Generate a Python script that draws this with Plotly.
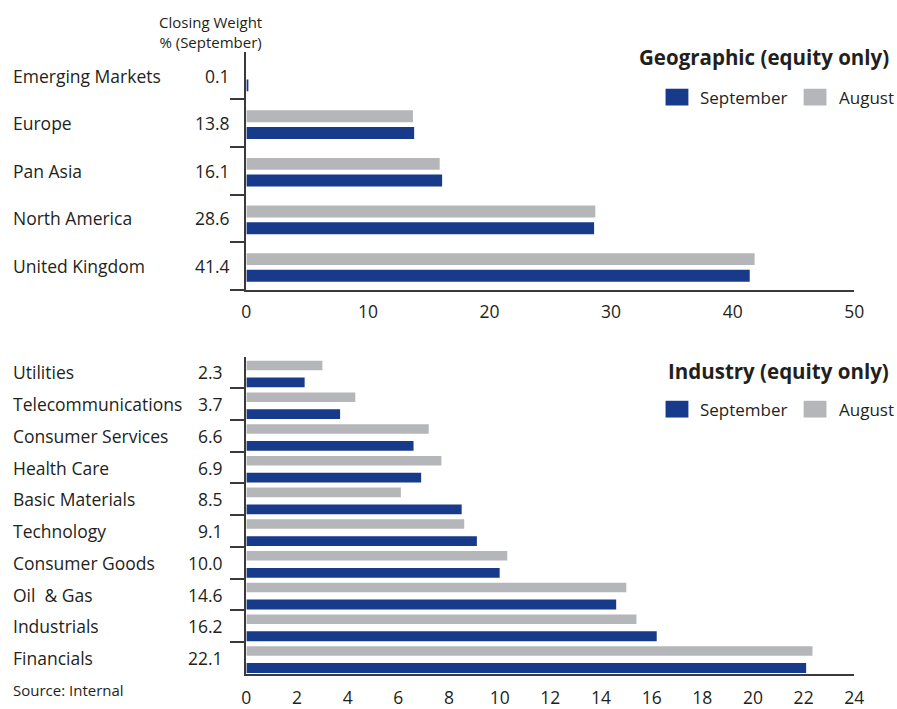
import plotly.graph_objects as go

# ---------------- data ----------------
geo_categories = ["Emerging Markets", "Europe", "Pan Asia", "North America", "United Kingdom"]
geo_september = [0.1, 13.8, 16.1, 28.6, 41.4]
geo_august = [0.0, 13.7, 15.9, 28.7, 41.8]
geo_ticks = [0, 10, 20, 30, 40, 50]

ind_categories = ["Utilities", "Telecommunications", "Consumer Services", "Health Care",
                  "Basic Materials", "Technology", "Consumer Goods", "Oil\u00a0 & Gas",
                  "Industrials", "Financials"]
ind_september = [2.3, 3.7, 6.6, 6.9, 8.5, 9.1, 10.0, 14.6, 16.2, 22.1]
ind_august = [3.0, 4.3, 7.2, 7.7, 6.1, 8.6, 10.3, 15.0, 15.4, 22.35]
ind_ticks = [0, 2, 4, 6, 8, 10, 12, 14, 16, 18, 20, 22, 24]

series_names = ["September", "August"]
geo_title = "Geographic (equity only)"
ind_title = "Industry (equity only)"
value_header = "Closing Weight<br>% (September)"
source_text = "Source: Internal"

# ---------------- style ----------------
W, H = 906, 709          # rendered figure; screenshot maps it onto 897 px
SW = 897                 # target screenshot width
BLUE = "#173a8a"
GRAY = "#b5b6b9"
TXT = "#231f20"
AXC = "#3a3a3a"
FONT = "Open Sans, Noto Sans, sans-serif"
FS = 17.5


def px(x):
    return x / SW


def py(y):
    return 1 - y / H


fig = go.Figure()

# top chart bars
fig.add_trace(go.Bar(orientation="h", x=geo_august, y=geo_categories, name=series_names[1],
                     marker=dict(color=GRAY, line=dict(width=0)), width=0.25, offset=0.02,
                     xaxis="x", yaxis="y", showlegend=False))
fig.add_trace(go.Bar(orientation="h", x=geo_september, y=geo_categories, name=series_names[0],
                     marker=dict(color=BLUE, line=dict(width=0)), width=0.25, offset=-0.33,
                     xaxis="x", yaxis="y", showlegend=False))
# bottom chart bars
fig.add_trace(go.Bar(orientation="h", x=ind_august, y=ind_categories, name=series_names[1],
                     marker=dict(color=GRAY, line=dict(width=0)), width=0.30, offset=0.07,
                     xaxis="x2", yaxis="y2", showlegend=False))
fig.add_trace(go.Bar(orientation="h", x=ind_september, y=ind_categories, name=series_names[0],
                     marker=dict(color=BLUE, line=dict(width=0)), width=0.31, offset=-0.47,
                     xaxis="x2", yaxis="y2", showlegend=False))

xcommon = dict(showline=True, linecolor=AXC, linewidth=1.5, ticks="", showgrid=False,
               zeroline=False, tickfont=dict(family=FONT, size=FS, color=TXT))
ycommon = dict(type="category", showticklabels=False, ticks="outside", tickson="boundaries",
               ticklen=15, tickwidth=1.5, tickcolor=AXC, showline=True, linecolor=AXC,
               linewidth=1.5, showgrid=False, zeroline=False, categoryorder="array")

fig.update_layout(
    width=W, height=H, autosize=False, margin=dict(l=0, r=0, t=0, b=0, pad=0),
    paper_bgcolor="white", plot_bgcolor="white", barmode="overlay",
    font=dict(family=FONT, size=FS, color=TXT),
    xaxis=dict(domain=[px(243), px(855)], range=[0, 50], tickvals=geo_ticks, anchor="y",
               ticklabelstandoff=5, **xcommon),
    yaxis=dict(domain=[py(294), py(53)], range=[-0.5, len(geo_categories) - 0.51],
               categoryarray=list(reversed(geo_categories)), anchor="x", **ycommon),
    xaxis2=dict(domain=[px(243), px(855)], range=[0, 24], tickvals=ind_ticks, anchor="y2",
                ticklabelstandoff=7, **xcommon),
    yaxis2=dict(domain=[py(683.5), py(362)], range=[-0.5, len(ind_categories) - 0.51],
                categoryarray=list(reversed(ind_categories)), anchor="x2", **ycommon),
)

ann = []
# category labels and values
for cat, v in zip(geo_categories, geo_september):
    ann.append(dict(x=px(6), xref="paper", y=cat, yref="y", text=cat, showarrow=False,
                    xanchor="left", yanchor="middle", font=dict(size=FS)))
    ann.append(dict(x=px(229), xref="paper", y=cat, yref="y", text=f"{v:.1f}", showarrow=False,
                    xanchor="right", yanchor="middle", font=dict(size=FS)))
for cat, v in zip(ind_categories, ind_september):
    ann.append(dict(x=px(6), xref="paper", y=cat, yref="y2", text=cat, showarrow=False,
                    xanchor="left", yanchor="middle", font=dict(size=FS)))
    ann.append(dict(x=px(221), xref="paper", y=cat, yref="y2", text=f"{v:.1f}", showarrow=False,
                    xanchor="right", yanchor="middle", font=dict(size=FS)))

# header
ann.append(dict(x=px(207), y=py(32), xref="paper", yref="paper", text=value_header, showarrow=False,
                xanchor="center", yanchor="middle", align="center", font=dict(size=15)))
# titles
ann.append(dict(x=px(892), y=py(58), xref="paper", yref="paper", text=f"<b>{geo_title}</b>",
                showarrow=False, xanchor="right", yanchor="middle", font=dict(size=20.5)))
ann.append(dict(x=px(892), y=py(376), xref="paper", yref="paper", text=f"<b>{ind_title}</b>",
                showarrow=False, xanchor="right", yanchor="middle", font=dict(size=20.5)))
# source
ann.append(dict(x=px(6), y=py(700), xref="paper", yref="paper", text=source_text, showarrow=False,
                xanchor="left", yanchor="middle", font=dict(size=15)))

shapes = []
# legends
for yc in (98.5, 415):
    shapes.append(dict(type="rect", xref="paper", yref="paper", x0=px(665), x1=px(688),
                       y0=py(yc + 8.5), y1=py(yc - 8.5), fillcolor=BLUE, line=dict(width=0)))
    shapes.append(dict(type="rect", xref="paper", yref="paper", x0=px(804), x1=px(827),
                       y0=py(yc + 8.5), y1=py(yc - 8.5), fillcolor=GRAY, line=dict(width=0)))
    ann.append(dict(x=px(698), y=py(yc), xref="paper", yref="paper", text=series_names[0],
                    showarrow=False, xanchor="left", yanchor="middle", font=dict(size=17)))
    ann.append(dict(x=px(838), y=py(yc), xref="paper", yref="paper", text=series_names[1],
                    showarrow=False, xanchor="left", yanchor="middle", font=dict(size=17)))

fig.update_layout(annotations=ann, shapes=shapes)
fig.write_html("out.html",
               config={"responsive": False, "displayModeBar": False},
               post_script="document.body.style.margin='0';document.body.style.overflow='hidden';")
